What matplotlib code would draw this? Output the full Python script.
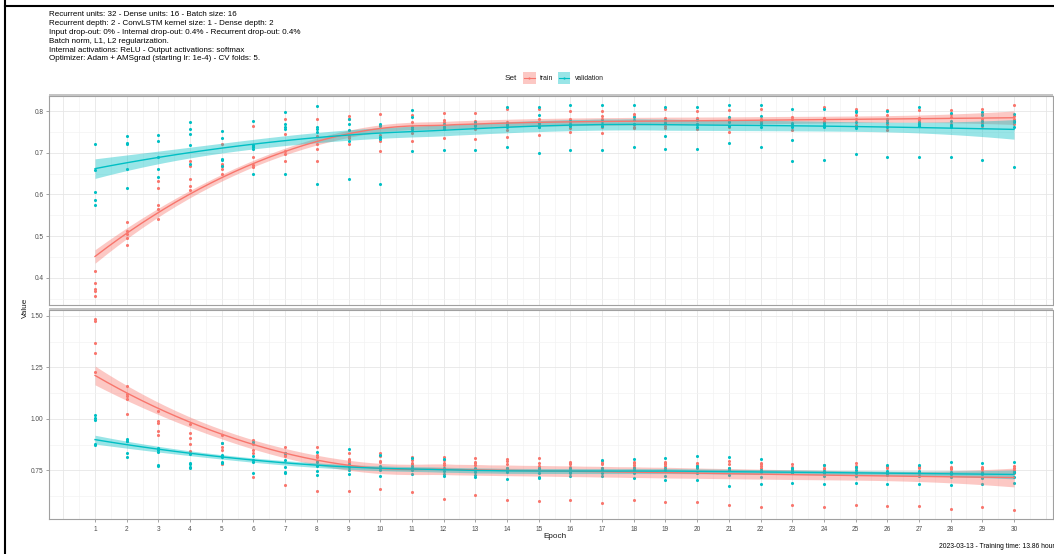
import numpy as np
import matplotlib
matplotlib.use("Agg")
import matplotlib.pyplot as plt
from matplotlib.patches import Rectangle
from matplotlib.lines import Line2D

# ---------------- data ----------------
epochs = list(range(1, 31))

train_acc = [
    [0.415, 0.387, 0.373, 0.369, 0.356], [0.534, 0.511, 0.505, 0.495, 0.479],
    [0.631, 0.616, 0.575, 0.566, 0.542], [0.680, 0.669, 0.636, 0.620, 0.611],
    [0.722, 0.673, 0.667, 0.660, 0.650], [0.764, 0.716, 0.690, 0.671, 0.666],
    [0.780, 0.745, 0.704, 0.696, 0.680], [0.782, 0.740, 0.722, 0.710, 0.679],
    [0.788, 0.781, 0.741, 0.735, 0.722], [0.792, 0.766, 0.743, 0.729, 0.703],
    [0.790, 0.774, 0.757, 0.748, 0.727], [0.795, 0.778, 0.773, 0.762, 0.735],
    [0.795, 0.776, 0.766, 0.756, 0.734], [0.806, 0.774, 0.768, 0.754, 0.737],
    [0.804, 0.780, 0.770, 0.762, 0.743], [0.800, 0.780, 0.773, 0.760, 0.749],
    [0.800, 0.788, 0.780, 0.762, 0.748], [0.794, 0.788, 0.770, 0.762, 0.760],
    [0.806, 0.783, 0.773, 0.765, 0.760], [0.800, 0.784, 0.780, 0.770, 0.756],
    [0.802, 0.780, 0.776, 0.761, 0.750], [0.804, 0.782, 0.776, 0.772, 0.768],
    [0.786, 0.780, 0.770, 0.764, 0.755], [0.810, 0.784, 0.776, 0.773, 0.764],
    [0.804, 0.790, 0.780, 0.766, 0.762], [0.802, 0.791, 0.778, 0.770, 0.754],
    [0.802, 0.784, 0.778, 0.770, 0.765], [0.802, 0.792, 0.786, 0.770, 0.764],
    [0.806, 0.794, 0.782, 0.772, 0.764], [0.814, 0.788, 0.782, 0.775, 0.768],
]
val_acc = [
    [0.720, 0.658, 0.606, 0.587, 0.575], [0.741, 0.724, 0.720, 0.661, 0.615],
    [0.743, 0.727, 0.689, 0.661, 0.642], [0.773, 0.756, 0.745, 0.718, 0.673],
    [0.753, 0.736, 0.685, 0.682, 0.668], [0.777, 0.718, 0.713, 0.708, 0.649],
    [0.798, 0.768, 0.762, 0.756, 0.649], [0.811, 0.762, 0.757, 0.749, 0.625],
    [0.782, 0.768, 0.754, 0.728, 0.636], [0.768, 0.764, 0.738, 0.734, 0.625],
    [0.802, 0.786, 0.762, 0.758, 0.703], [0.770, 0.767, 0.761, 0.758, 0.706],
    [0.773, 0.770, 0.766, 0.764, 0.706], [0.810, 0.772, 0.766, 0.762, 0.713],
    [0.810, 0.791, 0.772, 0.762, 0.700], [0.814, 0.775, 0.770, 0.764, 0.706],
    [0.814, 0.775, 0.770, 0.764, 0.706], [0.814, 0.786, 0.778, 0.768, 0.713],
    [0.810, 0.778, 0.772, 0.741, 0.710], [0.810, 0.778, 0.770, 0.762, 0.710],
    [0.814, 0.786, 0.774, 0.764, 0.723], [0.814, 0.788, 0.772, 0.762, 0.713],
    [0.805, 0.772, 0.762, 0.731, 0.680], [0.805, 0.772, 0.766, 0.762, 0.682],
    [0.801, 0.798, 0.774, 0.759, 0.697], [0.799, 0.782, 0.773, 0.761, 0.689],
    [0.810, 0.773, 0.768, 0.764, 0.689], [0.796, 0.777, 0.766, 0.761, 0.689],
    [0.798, 0.790, 0.777, 0.766, 0.682], [0.794, 0.777, 0.773, 0.762, 0.666],
]
train_loss = [
    [1.483, 1.476, 1.368, 1.321, 1.227], [1.158, 1.119, 1.110, 1.096, 1.022],
    [1.039, 0.988, 0.981, 0.941, 0.923], [0.975, 0.930, 0.905, 0.876, 0.845],
    [0.921, 0.881, 0.865, 0.849, 0.781], [0.897, 0.878, 0.849, 0.832, 0.719],
    [0.865, 0.832, 0.826, 0.820, 0.679], [0.865, 0.826, 0.816, 0.794, 0.650],
    [0.832, 0.805, 0.800, 0.790, 0.651], [0.832, 0.819, 0.794, 0.790, 0.661],
    [0.816, 0.800, 0.787, 0.780, 0.645], [0.816, 0.800, 0.787, 0.776, 0.612],
    [0.808, 0.790, 0.784, 0.774, 0.629], [0.805, 0.794, 0.781, 0.751, 0.604],
    [0.808, 0.784, 0.771, 0.760, 0.601], [0.790, 0.784, 0.780, 0.767, 0.607],
    [0.795, 0.784, 0.780, 0.760, 0.590], [0.792, 0.785, 0.776, 0.767, 0.604],
    [0.792, 0.784, 0.780, 0.771, 0.596], [0.784, 0.776, 0.770, 0.765, 0.596],
    [0.797, 0.779, 0.760, 0.751, 0.583], [0.787, 0.780, 0.771, 0.760, 0.570],
    [0.782, 0.765, 0.755, 0.738, 0.580], [0.776, 0.763, 0.755, 0.735, 0.570],
    [0.784, 0.770, 0.760, 0.743, 0.583], [0.772, 0.765, 0.760, 0.735, 0.575],
    [0.772, 0.765, 0.763, 0.738, 0.575], [0.767, 0.760, 0.755, 0.735, 0.561],
    [0.767, 0.760, 0.755, 0.743, 0.570], [0.772, 0.760, 0.750, 0.735, 0.559],
]
val_loss = [
    [1.018, 1.002, 0.993, 0.878, 0.873], [0.902, 0.894, 0.890, 0.832, 0.813],
    [0.858, 0.850, 0.840, 0.776, 0.771], [0.828, 0.787, 0.779, 0.767, 0.760],
    [0.881, 0.824, 0.813, 0.789, 0.785], [0.886, 0.819, 0.800, 0.792, 0.735],
    [0.836, 0.800, 0.767, 0.742, 0.737], [0.840, 0.792, 0.770, 0.745, 0.727],
    [0.852, 0.780, 0.767, 0.751, 0.732], [0.826, 0.770, 0.760, 0.751, 0.724],
    [0.810, 0.770, 0.760, 0.751, 0.732], [0.806, 0.760, 0.748, 0.732, 0.722],
    [0.760, 0.750, 0.743, 0.727, 0.719], [0.760, 0.760, 0.751, 0.740, 0.708],
    [0.760, 0.751, 0.738, 0.719, 0.714], [0.760, 0.751, 0.740, 0.735, 0.722],
    [0.800, 0.760, 0.750, 0.735, 0.722], [0.803, 0.760, 0.751, 0.735, 0.711],
    [0.811, 0.760, 0.751, 0.724, 0.703], [0.819, 0.771, 0.760, 0.735, 0.703],
    [0.816, 0.760, 0.750, 0.727, 0.675], [0.803, 0.751, 0.740, 0.719, 0.682],
    [0.760, 0.751, 0.745, 0.735, 0.687], [0.777, 0.745, 0.735, 0.724, 0.682],
    [0.767, 0.750, 0.735, 0.724, 0.687], [0.776, 0.748, 0.735, 0.725, 0.685],
    [0.776, 0.748, 0.740, 0.724, 0.685], [0.789, 0.743, 0.730, 0.719, 0.679],
    [0.787, 0.738, 0.730, 0.714, 0.682], [0.792, 0.740, 0.740, 0.719, 0.690],
]

set_names = ["train", "validation"]
set_colors = ["#F8766D", "#00BFC4"]

header_lines = [
    "Recurrent units: 32 - Dense units: 16 - Batch size: 16",
    "Recurrent depth: 2 - ConvLSTM kernel size: 1 - Dense depth: 2",
    "Input drop-out: 0% - Internal drop-out: 0.4% - Recurrent drop-out: 0.4%",
    "Batch norm, L1, L2 regularization.",
    "Internal activations: ReLU - Output activations: softmax",
    "Optimizer: Adam + AMSgrad (starting lr: 1e-4) - CV folds: 5.",
]
caption = "2023-03-13 - Training time: 13.86 hours"


# ---------------- loess (R-style, degree 2, span 0.75) ----------------
def loess_smooth(x, y, xs, span=0.75):
    x = np.asarray(x, float)
    y = np.asarray(y, float)
    n = len(x)
    q = int(np.floor(n * span))

    def row(x0):
        d = np.abs(x - x0)
        h = np.sort(d)[q - 1]
        u = d / h
        w = np.where(u < 1, (1 - u ** 3) ** 3, 0.0)
        X = np.column_stack([np.ones(n), x - x0, (x - x0) ** 2])
        A = X.T @ (w[:, None] * X)
        M = np.linalg.solve(A, (X * w[:, None]).T)
        return M[0]

    L = np.array([row(xi) for xi in x])
    IL = np.eye(n) - L
    R = IL.T @ IL
    d1 = np.trace(R)
    d2 = np.trace(R @ R)
    s = np.sqrt(np.sum((IL @ y) ** 2) / d1)
    Ls = np.array([row(x0) for x0 in xs])
    fit = Ls @ y
    se = s * np.sqrt(np.sum(Ls ** 2, axis=1))
    df = d1 ** 2 / d2
    z = 1.959964
    t = z + (z ** 3 + z) / (4 * df) + (5 * z ** 5 + 16 * z ** 3 + 3 * z) / (96 * df ** 2)
    return fit, fit - t * se, fit + t * se


# ---------------- figure ----------------
W, H = 1054, 554
fig = plt.figure(figsize=(W / 100, H / 100), dpi=100)
plt.rcParams["font.family"] = ["Liberation Sans", "DejaVu Sans"]


def fx(px):
    return px / W


def fy(py):
    return 1 - py / H


panel_left, panel_right = 49, 1053
panels = [(96, 305), (310, 519)]
ylims = [(0.3345, 0.836), (0.5136, 1.528)]
xlim = (-0.452, 31.23)

major_y = [[0.4, 0.5, 0.6, 0.7, 0.8], [0.75, 1.00, 1.25, 1.50]]
minor_y = [[0.35, 0.45, 0.55, 0.65, 0.75, 0.85], [0.625, 0.875, 1.125, 1.375]]
ylabels = [["0.4", "0.5", "0.6", "0.7", "0.8"], ["0.75", "1.00", "1.25", "1.50"]]

datasets = [(train_acc, val_acc), (train_loss, val_loss)]

tick_col = "#4D4D4D"
grid_major = "#E6E6E6"
grid_minor = "#F2F2F2"
border_col = "#A0A0A0"

xs_grid = np.linspace(1, 30, 80)

for pi, (top, bot) in enumerate(panels):
    ax = fig.add_axes([fx(panel_left), fy(bot), fx(panel_right - panel_left), (bot - top) / H])
    ax.set_xlim(*xlim)
    ax.set_ylim(*ylims[pi])
    # grid
    for v in np.arange(0, 31.6, 0.5):
        if abs(v - round(v)) < 1e-9:
            ax.axvline(v, color=grid_major, lw=0.6, zorder=0)
        else:
            ax.axvline(v, color=grid_minor, lw=0.45, zorder=0)
    for v in major_y[pi]:
        ax.axhline(v, color=grid_major, lw=0.6, zorder=0)
    for v in minor_y[pi]:
        ax.axhline(v, color=grid_minor, lw=0.45, zorder=0)

    tr, va = datasets[pi]
    for si, series in enumerate([tr, va]):
        xx = np.repeat(epochs, 5)
        yy = np.array(series).ravel()
        ax.scatter(xx, yy, s=5, color=set_colors[si], linewidths=0, zorder=2)
    for si, series in enumerate([tr, va]):
        xx = np.repeat(epochs, 5)
        yy = np.array(series).ravel()
        fit, lo, hi = loess_smooth(xx, yy, xs_grid)
        ax.fill_between(xs_grid, lo, hi, color=set_colors[si], alpha=0.4, linewidth=0, zorder=3)
        ax.plot(xs_grid, fit, color=set_colors[si], lw=1.0, zorder=4)

    ax.set_yticks(major_y[pi])
    ax.set_yticklabels(ylabels[pi])
    ax.tick_params(axis="y", length=2.5, width=0.5, color="#7F7F7F", pad=1.5,
                   labelsize=4.7, labelcolor=tick_col)
    if pi == 1:
        ax.set_xticks(epochs)
        ax.set_xticklabels([str(e) for e in epochs])
        ax.tick_params(axis="x", length=2.5, width=0.5, color="#7F7F7F", pad=2.5,
                       labelsize=4.7, labelcolor=tick_col)
    else:
        ax.set_xticks([])
    for sp in ax.spines.values():
        sp.set_color(border_col)
        sp.set_linewidth(0.8)
    ax.set_facecolor("white")
    # strip band on top of panel
    fig.add_artist(Rectangle((fx(panel_left), fy(top)), fx(panel_right - panel_left), 2.5 / H,
                             transform=fig.transFigure, facecolor="#C4C4C4", edgecolor="none"))

# axis titles
fig.text(fx(25), fy(307.5), "Value", rotation=90, ha="center", va="center",
         fontsize=5.9, color="#1A1A1A")
fig.text(fx(555), fy(536), "Epoch", ha="center", va="center", fontsize=5.9, color="#1A1A1A")

# header
for i, line in enumerate(header_lines):
    fig.text(fx(49), fy(15 + i * 8.8), line, ha="left", va="center", fontsize=5.8, color="black")

# legend
fig.text(fx(517), fy(78), "Set", ha="right", va="center", fontsize=5.9, color="#1A1A1A")
key_x = [523, 557.5]
text_x = [540, 574.5]
for i in range(2):
    fig.add_artist(Rectangle((fx(key_x[i]), fy(84.5)), fx(12.5), 12.5 / H,
                             transform=fig.transFigure, facecolor=set_colors[i],
                             alpha=0.4, edgecolor="none"))
    fig.add_artist(Line2D([fx(key_x[i] + 1), fx(key_x[i] + 11.5)], [fy(78.2), fy(78.2)],
                          transform=fig.transFigure, color=set_colors[i], lw=0.8))
    fig.add_artist(Line2D([fx(key_x[i] + 6.25)], [fy(78.2)], transform=fig.transFigure,
                          color=set_colors[i], marker="o", ms=1.6, mew=0))
    fig.text(fx(text_x[i]), fy(78), set_names[i], ha="left", va="center",
             fontsize=4.9, color="#1A1A1A")

# caption
fig.text(fx(939), fy(547), caption, ha="left", va="center", fontsize=4.9, color="black")

# outer black frame fragments of the screenshot
fig.add_artist(Line2D([fx(5), fx(5)], [0, 1], transform=fig.transFigure, color="black", lw=1.5))
fig.add_artist(Line2D([fx(5), 1], [fy(6), fy(6)], transform=fig.transFigure, color="black", lw=1.5))

fig.savefig("out.png", dpi=100, facecolor="white")
